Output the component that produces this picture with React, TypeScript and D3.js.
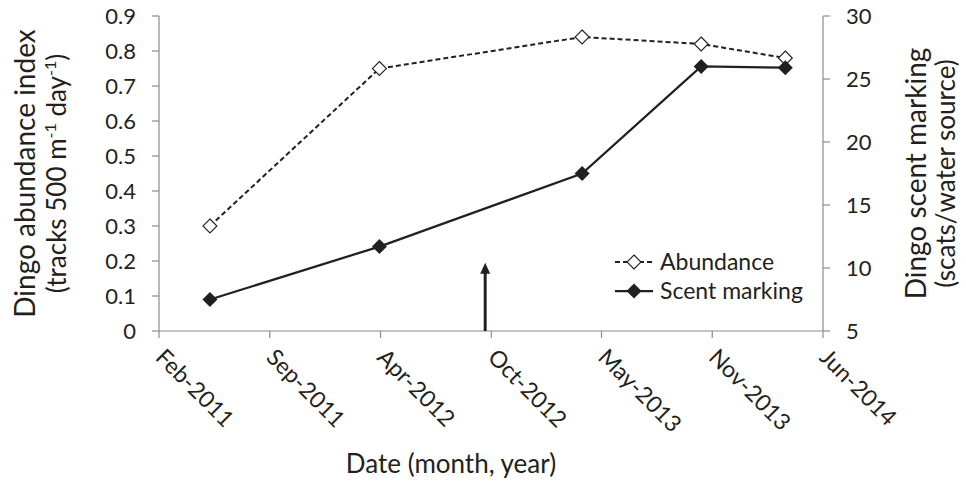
import React from 'react';
import * as d3 from 'd3';

// survey dates and the two measured series
const sampleDates = ['2011-05-31', '2012-04-01', '2013-04-02', '2013-11-03', '2014-04-04'];
const abundance = [0.3, 0.75, 0.84, 0.82, 0.78];
const scentMarking = [7.5, 11.7, 17.5, 26.0, 25.9];

// date axis (Excel style: fixed step between ticks)
const xTickDates = ['2011-02-28', '2011-09-16', '2012-04-03', '2012-10-20', '2013-05-07', '2013-11-23', '2014-06-11'];
const xTickLabels = ['Feb-2011', 'Sep-2011', 'Apr-2012', 'Oct-2012', 'May-2013', 'Nov-2013', 'Jun-2014'];
const leftTicks = [0, 0.1, 0.2, 0.3, 0.4, 0.5, 0.6, 0.7, 0.8, 0.9];
const leftTickLabels = ['0', '0.1', '0.2', '0.3', '0.4', '0.5', '0.6', '0.7', '0.8', '0.9'];
const rightTicks = [5, 10, 15, 20, 25, 30];

// event arrow
const arrowDate = '2012-10-09';
const arrowTop = 0.195;

const W = 966;
const H = 482;
const FONT = 'Lato, "Open Sans", sans-serif';
const TEXT = '#231f20';
const AXIS = '#8c8c8c';

const parse = d3.utcParse('%Y-%m-%d');

const diamond = (cx: number, cy: number, r: number) =>
  `M${cx},${cy - r}L${cx + r},${cy}L${cx},${cy + r}L${cx - r},${cy}Z`;

const App: React.FC = () => {
  const x = d3
    .scaleUtc()
    .domain([parse(xTickDates[0])!, parse(xTickDates[xTickDates.length - 1])!])
    .range([159, 823]);
  const yL = d3.scaleLinear().domain([0, 0.9]).range([331, 16]);
  const yR = d3.scaleLinear().domain([5, 30]).range([331, 16]);

  const dates = sampleDates.map((d) => parse(d)!);

  const abLine = d3
    .line<number>()
    .x((_, i) => x(dates[i]))
    .y((d) => yL(d));
  const scLine = d3
    .line<number>()
    .x((_, i) => x(dates[i]))
    .y((d) => yR(d));

  const ax = x(parse(arrowDate)!);
  const aTop = yL(arrowTop);

  return (
    <svg width={W} height={H} style={{ position: 'absolute', left: 0, top: 0 }} fontFamily={FONT}>
      <rect width={W} height={H} fill="#fff" />

      {/* axes */}
      <g stroke={AXIS} strokeWidth={1.2} fill="none">
        <line x1={159} x2={159} y1={yL(0.9)} y2={yL(0)} />
        <line x1={823} x2={823} y1={yR(30)} y2={yR(5)} />
        <line x1={159} x2={823} y1={yL(0)} y2={yL(0)} />
        {leftTicks.map((t) => (
          <line key={'l' + t} x1={152} x2={159} y1={yL(t)} y2={yL(t)} />
        ))}
        {rightTicks.map((t) => (
          <line key={'r' + t} x1={823} x2={830} y1={yR(t)} y2={yR(t)} />
        ))}
        {xTickDates.map((d) => (
          <line key={'x' + d} x1={x(parse(d)!)} x2={x(parse(d)!)} y1={331} y2={338} />
        ))}
      </g>

      {/* tick labels */}
      <g fontSize={22} fill={TEXT}>
        {leftTicks.map((t, i) => (
          <text key={'lt' + t} x={136} y={yL(t)} dy="0.35em" textAnchor="end">
            {leftTickLabels[i]}
          </text>
        ))}
        {rightTicks.map((t) => (
          <text key={'rt' + t} x={846} y={yR(t)} dy="0.35em">
            {t}
          </text>
        ))}
        {xTickDates.map((d, i) => (
          <text
            key={'xt' + d}
            fontSize={23}
            transform={`translate(${x(parse(d)!) + 1},${353}) rotate(45)`}
            dy="0.35em"
          >
            {xTickLabels[i]}
          </text>
        ))}
      </g>

      {/* axis titles */}
      <g fontSize={28} fill={TEXT} textAnchor="middle">
        <text x={451} y={473} fontSize={26}>Date (month, year)</text>
        <text transform={`translate(35,${(yL(0) + yL(0.9)) / 2}) rotate(-90)`}>Dingo abundance index</text>
        <text fontSize={26} transform={`translate(66,${(yL(0) + yL(0.9)) / 2}) rotate(-90)`}>
          (tracks 500 m
          <tspan fontSize={16} dy={-10}>-1</tspan>
          <tspan dy={10}> day</tspan>
          <tspan fontSize={16} dy={-10}>-1</tspan>
          <tspan dy={10}>)</tspan>
        </text>
        <text transform={`translate(926,${(yR(5) + yR(30)) / 2}) rotate(-90)`}>Dingo scent marking</text>
        <text fontSize={26} transform={`translate(955,${(yR(5) + yR(30)) / 2}) rotate(-90)`}>(scats/water source)</text>
      </g>

      {/* arrow */}
      <line x1={ax} x2={ax} y1={yL(0)} y2={aTop + 8} stroke={TEXT} strokeWidth={3} />
      <path d={`M${ax},${aTop}L${ax + 5},${aTop + 11}L${ax - 5},${aTop + 11}Z`} fill={TEXT} />

      {/* series */}
      <path d={abLine(abundance) || ''} fill="none" stroke={TEXT} strokeWidth={2} strokeDasharray="5,3" />
      <path d={scLine(scentMarking) || ''} fill="none" stroke={TEXT} strokeWidth={2.25} />
      {abundance.map((v, i) => (
        <path key={'am' + i} d={diamond(x(dates[i]), yL(v), 7)} fill="#fff" stroke={TEXT} strokeWidth={1.1} />
      ))}
      {scentMarking.map((v, i) => (
        <path key={'sm' + i} d={diamond(x(dates[i]), yR(v), 7.5)} fill={TEXT} />
      ))}

      {/* legend */}
      <g fill={TEXT} fontSize={23}>
        <line x1={615} x2={653} y1={262} y2={262} stroke={TEXT} strokeWidth={1.8} strokeDasharray="5,3" />
        <path d={diamond(634, 262, 7)} fill="#fff" stroke={TEXT} strokeWidth={1.1} />
        <text x={660} y={262} dy="0.35em">Abundance</text>
        <line x1={615} x2={653} y1={291} y2={291} stroke={TEXT} strokeWidth={2.25} />
        <path d={diamond(634, 291, 7.5)} />
        <text x={660} y={291} dy="0.35em">Scent marking</text>
      </g>
    </svg>
  );
};

export default App;
